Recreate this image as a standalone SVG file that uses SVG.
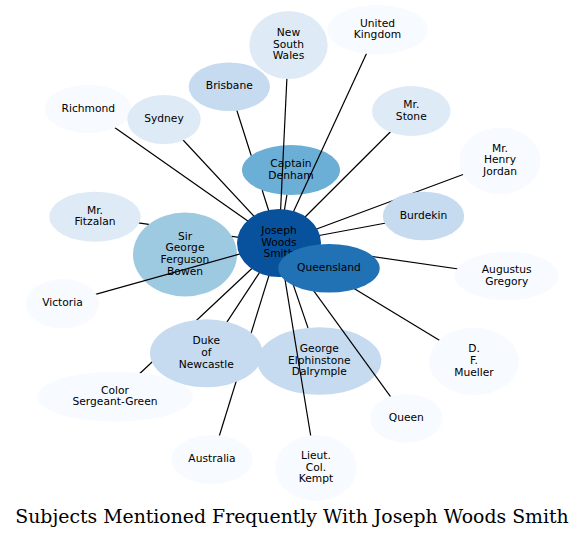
<svg xmlns="http://www.w3.org/2000/svg" width="585" height="538" viewBox="0 0 585 538">
<style>
.n text{font-family:"DejaVu Sans",sans-serif;font-size:10.7px;text-anchor:middle;fill:#000}
.c path{stroke:#000;stroke-width:1.2;fill:none}
.title{font-family:"DejaVu Serif",serif;font-size:18.85px;text-anchor:middle;fill:#000}
.b1{fill:#08519c}.b2{fill:#2171b5}.b3{fill:#6baed6}.b4{fill:#9ecae1}.b5{fill:#c6dbef}.b6{fill:#deebf7}.b7{fill:#f7fbff}
</style>
<rect width="585" height="538" fill="#fff"/>
<g id="node-denham" class="n"><ellipse class="b3" cx="291" cy="170" rx="49" ry="25"/><text x="291" y="167.1">Captain</text><text x="291" y="178.8">Denham</text></g>
<g id="node-bowen" class="n"><ellipse class="b4" cx="185" cy="254.5" rx="52" ry="42"/><text x="185" y="239.6">Sir</text><text x="185" y="251.3">George</text><text x="185" y="263">Ferguson</text><text x="185" y="274.7">Bowen</text></g>
<g id="node-dalrymple" class="n"><ellipse class="b5" cx="319.3" cy="361" rx="62" ry="33.7"/><text x="319.3" y="352">George</text><text x="319.3" y="363.7">Elphinstone</text><text x="319.3" y="375.4">Dalrymple</text></g>
<g id="connectors" class="c">
<path d="M279,243L88.3,109"/>
<path d="M279,243L164,119.5"/>
<path d="M229.3,86.7L251.2,155.5M262.2,190.2L279,243"/>
<path d="M279,243L288.5,45"/>
<path d="M279,243L377.5,29.7"/>
<path d="M279,243L286.9,194.9"/>
<path d="M279,243L411.3,111"/>
<path d="M279,243L500,160.7"/>
<path d="M279,243L423.5,216"/>
<path d="M279,243L506.7,276"/>
<path d="M279,243L474,361.3"/>
<path d="M279,243L406.3,418.3"/>
<path d="M279,243L308,327.9"/>
<path d="M279,243L316,468"/>
<path d="M279,243L206.3,353.3"/>
<path d="M279,243L212,459.5"/>
<path d="M279,243L115,396.7"/>
<path d="M279,243L62.5,303.7"/>
<path d="M95,216.7L148.75,224.4M231.8,236.3L279,243"/>
</g>
<g id="node-richmond" class="n"><ellipse class="b7" cx="88.3" cy="109" rx="43.3" ry="24.2"/><text x="88.3" y="111.7">Richmond</text></g>
<g id="node-sydney" class="n"><ellipse class="b6" cx="164" cy="119.5" rx="36.7" ry="24.5"/><text x="164" y="122.2">Sydney</text></g>
<g id="node-brisbane" class="n"><ellipse class="b5" cx="229.3" cy="86.7" rx="40.7" ry="24.3"/><text x="229.3" y="89.4">Brisbane</text></g>
<g id="node-nsw" class="n"><ellipse class="b6" cx="288.5" cy="45" rx="39.2" ry="34"/><text x="288.5" y="36">New</text><text x="288.5" y="47.7">South</text><text x="288.5" y="59.4">Wales</text></g>
<g id="node-uk" class="n"><ellipse class="b7" cx="377.5" cy="29.7" rx="50.2" ry="24.7"/><text x="377.5" y="26.6">United</text><text x="377.5" y="38.3">Kingdom</text></g>
<g id="node-stone" class="n"><ellipse class="b6" cx="411.3" cy="111" rx="39.3" ry="25"/><text x="411.3" y="107.9">Mr.</text><text x="411.3" y="119.6">Stone</text></g>
<g id="node-jordan" class="n"><ellipse class="b7" cx="500" cy="160.7" rx="40.7" ry="33.3"/><text x="500" y="151.7">Mr.</text><text x="500" y="163.4">Henry</text><text x="500" y="175.1">Jordan</text></g>
<g id="node-burdekin" class="n"><ellipse class="b5" cx="423.5" cy="216" rx="40.7" ry="24.3"/><text x="423.5" y="218.7">Burdekin</text></g>
<g id="node-fitzalan" class="n"><ellipse class="b6" cx="95" cy="216.7" rx="45.7" ry="25"/><text x="95" y="213.6">Mr.</text><text x="95" y="225.3">Fitzalan</text></g>
<g id="node-victoria" class="n"><ellipse class="b7" cx="62.5" cy="303.7" rx="36.5" ry="24.7"/><text x="62.5" y="306.4">Victoria</text></g>
<g id="node-gregory" class="n"><ellipse class="b7" cx="506.7" cy="276" rx="52" ry="24.3"/><text x="506.7" y="272.9">Augustus</text><text x="506.7" y="284.6">Gregory</text></g>
<g id="node-mueller" class="n"><ellipse class="b7" cx="474" cy="361.3" rx="45" ry="33.7"/><text x="474" y="352.3">D.</text><text x="474" y="364">F.</text><text x="474" y="375.7">Mueller</text></g>
<g id="node-queen" class="n"><ellipse class="b7" cx="406.3" cy="418.3" rx="36.3" ry="24.3"/><text x="406.3" y="421">Queen</text></g>
<g id="node-kempt" class="n"><ellipse class="b7" cx="316" cy="468" rx="40.7" ry="33"/><text x="316" y="459">Lieut.</text><text x="316" y="470.7">Col.</text><text x="316" y="482.4">Kempt</text></g>
<g id="node-australia" class="n"><ellipse class="b7" cx="212" cy="459.5" rx="40.7" ry="24.5"/><text x="212" y="462.2">Australia</text></g>
<g id="node-csg" class="n"><ellipse class="b7" cx="115" cy="396.7" rx="77.7" ry="25"/><text x="115" y="393.6">Color</text><text x="115" y="405.3">Sergeant-Green</text></g>
<g id="node-duke" class="n"><ellipse class="b5" cx="206.3" cy="353.3" rx="56.3" ry="34"/><text x="206.3" y="344.3">Duke</text><text x="206.3" y="356">of</text><text x="206.3" y="367.7">Newcastle</text></g>
<g id="node-joseph" class="n"><ellipse class="b1" cx="279" cy="243" rx="42" ry="34"/><text x="279" y="234">Joseph</text><text x="279" y="245.7">Woods</text><text x="279" y="257.4">Smith</text></g>
<g id="node-queensland" class="n"><ellipse class="b2" cx="329" cy="268.3" rx="50.7" ry="24.3"/><text x="329" y="271">Queensland</text></g>
<text class="title" x="292" y="523">Subjects Mentioned Frequently With Joseph Woods Smith</text>
</svg>
